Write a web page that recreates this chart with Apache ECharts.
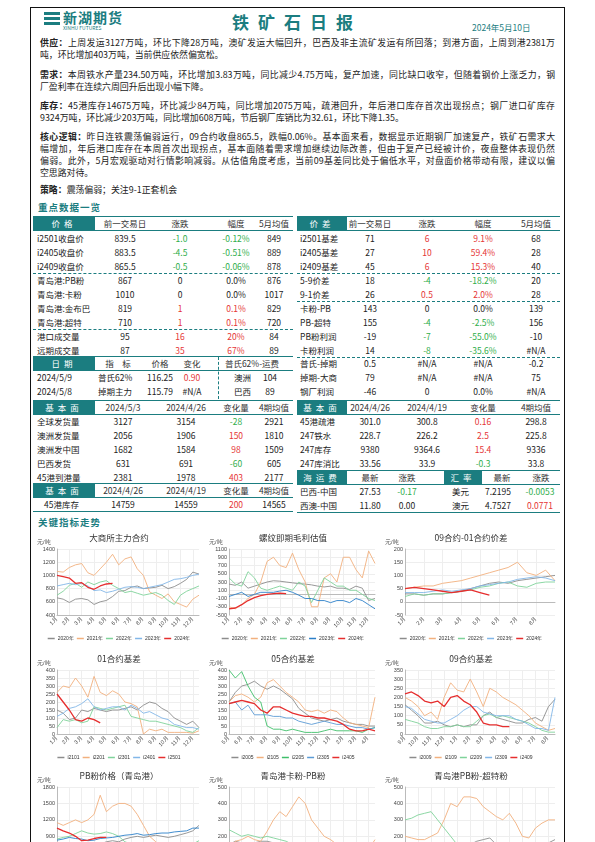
<!DOCTYPE html>
<html><head><meta charset="utf-8">
<script src="https://cdn.jsdelivr.net/npm/echarts@6/dist/echarts.min.js"></script>
<style>
body{margin:0;width:595px;height:842px;overflow:hidden;background:#fff;font-family:"Noto Sans CJK SC",sans-serif;position:relative}
.a{position:absolute;white-space:nowrap;font-size:8.5px;color:#222;line-height:12px}
.c{transform:translateX(-50%)}
.ln{position:absolute;left:40px;width:515px;font-size:8.9px;line-height:12px;text-align:justify;text-align-last:justify;color:#222;white-space:nowrap}
.box{position:absolute;background:#1b7d80;color:#fff;font-size:8.5px;text-align:center;line-height:14px;letter-spacing:4px}
.hl{position:absolute;height:0;border-top:1.2px solid #1b7d80}
.dl{position:absolute;height:0;border-top:1px dashed #1b7d80}
.ch{position:absolute}
</style></head><body>
<div style="position:absolute;left:30px;top:7px;width:533px;height:850px;border:1.5px solid #111"></div>
<div id="root"></div>
<script>
// ---------- data ----------
const months12 = ['1月','','2月','','3月','','4月','','5月','','6月','','7月','','8月','','9月','','10月','','11月','','12月',''];
const months9 = ['1月','','2月','','3月','','4月','','5月','','6月','','7月','','8月','',''];
const months05 = ['5月','','6月','','7月','','8月','','9月','','10月','','11月','','12月','','1月','','2月','','3月','','4月',''];
const months09 = ['9月','','10月','','11月','','12月','','1月','','2月','','3月','','4月','','5月','','6月','','7月','','8月',''];
const years = ['2020年','2021年','2022年','2023年','2024年'];
const main2020=[660,640,590,640,650,630,560,600,620,680,760,770,820,840,800,810,820,850,800,830,880,940,1050,1020];
const main2021=[1060,1050,1120,1160,1180,1040,1000,1100,1200,1320,1160,1250,1280,1100,1000,750,700,650,720,600,560,520,640,700];
const main2022=[700,760,850,880,820,900,860,900,920,850,800,740,760,730,700,720,740,700,620,560,700,760,800,840];
const main2023=[840,860,880,860,880,840,770,780,740,760,790,820,830,820,800,820,840,860,900,940,950,970,1000,1020];
const main2024=[1000,980,960,880,890,820,790,840,870,880];
const rb2020=[250,220,300,150,200,250,300,330,320,300,280,260,250,230,200,180,200,150,150,120,200,150,-150,-100];
const rb2021=[-300,-350,-250,-100,0,300,800,900,700,650,1000,600,300,-300,-300,400,500,300,900,900,600,400,1050,750];
const rb2022=[400,250,200,550,400,150,100,150,200,150,100,300,200,-200,100,400,300,200,200,100,100,0,-100,-150];
const rb2023=[-50,0,50,-50,0,50,50,50,80,100,50,-20,-100,-100,-150,-150,-200,-150,-150,-200,-100,-150,-250,-350];
const rb2024=[-350,-330,-250,-150,-80,-30,0,20,30,20];
const sp2020=[30,30,25,30,30,35,40,50,60,70,75,70,80,85,90,95,100];
const sp2021=[50,55,60,60,70,75,80,90,100,110,120,130,150,110,100,120,80];
const sp2022=[20,30,25,30,30,35,40,45,55,60,70,75,60,55,70,75,75];
const sp2023=[35,35,35,40,45,40,45,50,60,65,70,75,85,90,95,90,80];
const sp2024=[50,55,50,45,40,35,40,45,35,25];
const b01names=['i2101','i2201','i2301','i2401','i2501'];
const b01a=[150,130,90,100,150,140,160,150,140,150,150,160,170,150,180,200,190,160,140,100,80,60,80,40];
const b01b=[260,300,290,350,300,230,360,260,240,270,250,200,190,170,0,30,20,30,10,10,10,10,5,20];
const b01c=[40,90,80,90,70,80,170,160,150,160,170,180,110,100,90,80,80,70,60,50,40,20,10,40];
const b01d=[110,130,160,170,190,220,170,150,160,170,170,150,180,160,130,140,120,100,90,60,50,40,40,30];
const b01e=[250,200,150,90,80,100,90,70];
const b05names=['i2005','i2105','i2205','i2305','i2405'];
const b05a=[200,260,300,310,330,300,280,300,280,250,220,160,130,100,90,80,90,100,80,70,60,60,50,50];
const b05b=[200,240,250,230,200,230,320,340,300,260,230,200,150,140,150,130,150,140,100,70,60,50,40,230];
const b05c=[400,350,390,300,230,200,50,30,30,20,30,20,10,10,10,20,30,20,20,20,20,10,30,40];
const b05d=[190,200,150,180,120,120,120,110,110,100,100,80,70,60,70,80,70,60,60,50,40,40,30,40];
const b05e=[190,200,210,200,190,150,130,170,170,150,130,120,110,110,100,100,90,80,60,30,20,20,30,20];
const b09names=['i2009','i2109','i2209','i2309','i2409'];
const b09a=[160,130,100,60,60,70,50,40,50,40,50,50,100,120,90,80,70,60,60,80,90,70,150,190];
const b09b=[200,180,150,100,120,80,200,280,240,230,300,230,150,250,230,200,180,160,130,100,60,40,20,30];
const b09c=[80,70,60,40,30,30,40,40,50,40,40,70,100,110,90,100,90,80,70,60,40,20,10,10];
const b09d=[150,140,110,80,70,60,60,80,100,130,150,150,120,110,100,100,100,80,70,50,30,30,20,200];
const b09e=[220,230,210,180,170,180,150,200,210,180,160,120,60,50,50,40,40];
const pb2020=[680,660,620,640,650,640,680,760,800,820,800,850,880,900,880,900,920,900,880,900,930,960,1000,1100];
const pb2021=[1150,1100,1150,1200,1150,1200,1300,1650,1350,1450,1500,1500,1450,1300,1100,900,800,700,750,650,600,620,700,760];
const pb2022=[850,880,900,950,1000,960,940,950,980,950,900,800,760,700,720,740,720,700,680,650,650,700,760,820];
const pb2023=[830,850,880,860,850,820,830,860,870,880,900,920,930,950,920,930,950,960,960,980,990,1000,1050,1050];
const pb2024=[1050,1000,960,900,820,830,860,880,880];
const kp2020=[150,170,160,150,160,170,170,160,150,150,120,60,50,60,70,100,120,110,100,80,100,90,110,100];
const kp2021=[120,170,180,200,180,170,230,300,350,320,380,440,400,300,250,200,180,150,130,120,110,100,120,180];
const kp2022=[240,220,200,210,200,190,200,190,180,170,150,120,100,100,90,90,90,90,100,100,90,90,80,80];
const kp2023=[100,110,110,100,100,110,100,100,90,90,90,80,80,80,80,80,90,90,80,80,90,90,80,80];
const kp2024=[100,100,90,100,110,120,140,150,150];
const ct2020=[130,120,110,110,120,120,130,130,140,130,150,170,180,190,150,100,70,80,90,100,120,140,160,180];
const ct2021=[200,190,180,180,200,220,300,400,380,440,440,430,380,350,320,300,340,280,200,190,250,280,300,300];
const ct2022=[300,310,330,340,350,300,250,200,150,120,110,100,110,90,80,70,80,90,100,110,120,140,150,160];
const ct2023=[140,130,130,120,120,130,120,130,130,140,130,130,140,130,110,80,70,80,90,100,110,120,120,110];
const ct2024=[110,110,120,140,160,160,150,150];

// ---------- layout helpers ----------
const R=document.getElementById('root');
function el(cls,css,html){const d=document.createElement('div');d.className=cls;d.style.cssText=css;if(html!==undefined)d.innerHTML=html;R.appendChild(d);return d;}
const G='#2fae4a',RD='#e53535';
function T(x,y,t,col,center){el('a'+(center?' c':''),`left:${x}px;top:${y-6}px;color:${col||'#222'}`,t);}

// header
el('a','left:44px;top:10px;width:16px;height:20px;', '<div style="border-top:3px solid #1b7d80;margin-top:2px;width:16px"></div><div style="border-top:3px solid #1b7d80;margin-top:2px;width:16px"></div><div style="border-top:3px solid #1b7d80;margin-top:2px;width:16px"></div>');
el('a','left:63px;top:9px;font-size:14px;line-height:16px;font-weight:bold;color:#1b7d80;letter-spacing:1px','新湖期货');
el('a','left:63px;top:25px;font-size:5px;line-height:6px;color:#1b7d80','XINHU FUTURES');
el('a','left:297px;top:11px;font-size:17px;line-height:22px;font-weight:bold;color:#1b7d80;letter-spacing:9px;transform:translateX(-50%)','铁矿石日报');
el('a','left:472px;top:21px;font-size:8.5px;color:#1b7d80','2024年5月10日');

const lines=[
[43,'<b>供应：</b>上周发运3127万吨，环比下降28万吨，澳矿发运大幅回升，巴西及非主流矿发运有所回落；到港方面，上周到港2381万'],
[55,'吨，环比增加403万吨，当前供应依然偏宽松。',1],
[75,'<b>需求：</b>本周铁水产量234.50万吨，环比增加3.83万吨，同比减少4.75万吨，复产加速，同比缺口收窄，但随着钢价上涨乏力，钢'],
[87,'厂盈利率在连续六周回升后出现小幅下降。',1],
[106,'<b>库存：</b>45港库存14675万吨，环比减少84万吨，同比增加2075万吨，疏港回升，年后港口库存首次出现拐点；钢厂进口矿库存'],
[118,'9324万吨，环比减少203万吨，同比增加608万吨，节后钢厂库销比为32.61，环比下降1.35。',1],
[137,'<b>核心逻辑：</b>昨日连铁震荡偏弱运行，09合约收盘865.5，跌幅0.06%。基本面来看，数据显示近期钢厂加速复产，铁矿石需求大'],
[149,'幅增加，年后港口库存在本周首次出现拐点，基本面随着需求增加继续边际改善，但由于复产已经被计价，夜盘整体表现仍然'],
[161,'偏弱。此外，5月宏观驱动对行情影响减弱。从估值角度考虑，当前09基差同比处于偏低水平，对盘面价格带动有限，建议以偏'],
[173,'空思路对待。',1],
[190,'<b>策略：</b>震荡偏弱；关注9-1正套机会',1]];
lines.forEach(l=>el('ln',`top:${l[0]-6}px;${l[2]?'text-align-last:left':''}`,l[1]));

el('a','left:38px;top:201px;font-size:9.5px;font-weight:bold;color:#1b7d80;letter-spacing:1px','重点数据一览');
el('a','left:38px;top:516px;font-size:9.5px;font-weight:bold;color:#1b7d80;letter-spacing:1px','关键指标走势');

// table helpers
const LX=[37,125,180,236,274], RX=[300,370,427,483,536];
function hdr(y,x0,x1,boxW,label,cols,xs){el('hl',`left:${x0}px;top:${y-7}px;width:${x1-x0}px`);el('hl',`left:${x0}px;top:${y+7}px;width:${x1-x0}px`);
 el('box',`left:${x0}px;top:${y-7}px;width:${boxW}px`,label);cols.forEach((c,i)=>T(xs[i],y,c,'#333',1));}
function row(y,cells,xs){cells.forEach((c,i)=>{if(c===null)return;let t=c,col;if(Array.isArray(c)){t=c[0];col=c[1];}T(xs[i],y,t,col,i>0);});}

hdr(223,33,293,62,'价格',['前一交易日','涨跌','幅度','5月均值'],LX.slice(1));
hdr(223,297,560,50,'价差',['前一交易日','涨跌','幅度','5月均值'],RX.slice(1));
const LT=[
['i2501收盘价','839.5',['-1.0',G],['-0.12%',G],'849'],
['i2405收盘价','883.5',['-4.5',G],['-0.51%',G],'889'],
['i2409收盘价','865.5',['-0.5',G],['-0.06%',G],'878'],
['青岛港:PB粉','867','0','0.0%','876'],
['青岛港:卡粉','1010','0','0.0%','1017'],
['青岛港:金布巴','819',['1',RD],['0.1%',RD],'829'],
['青岛港:超特','710',['1',RD],['0.1%',RD],'720'],
['港口成交量','95',['16',RD],['20%',RD],'84'],
['远期成交量','87',['35',RD],['67%',RD],'89']];
const RT=[
['i2501基差','71',['6',RD],['9.1%',RD],'68'],
['i2405基差','27',['10',RD],['59.4%',RD],'28'],
['i2409基差','45',['6',RD],['15.3%',RD],'40'],
['5-9价差','18',['-4',G],['-18.2%',G],'20'],
['9-1价差','26',['0.5',RD],['2.0%',RD],'28'],
['卡粉-PB','143','0','0.0%','139'],
['PB-超特','155',['-4',G],['-2.5%',G],'156'],
['PB粉利润','-19',['-7',G],['-55.0%',G],'-10'],
['卡粉利润','14',['-8',G],['-35.6%',G],'#N/A']];
LT.forEach((r,i)=>row(238+i*14,r,LX));RT.forEach((r,i)=>row(238+i*14,r,RX));
el('dl','left:33px;top:273px;width:260px');el('dl','left:33px;top:329px;width:260px');
el('dl','left:297px;top:273px;width:263px');el('dl','left:297px;top:301px;width:263px');el('dl','left:297px;top:357px;width:263px');

// 日期 section
el('hl','left:33px;top:356px;width:260px');el('hl','left:33px;top:370px;width:260px');
el('box','left:33px;top:356px;width:62px','日期');
T(118,363,'指　标','#333',1);T(160,363,'价格','#333',1);T(192,363,'变化','#333',1);T(252,363,'普氏62%-运费','#333',1);
el('a','left:218px;top:357px;height:42px;border-left:1px dashed #1b7d80');
row(377,['2024/5/9',null,null,null,null],LX);T(98,377,'普氏62%');T(160,377,'116.25','#222',1);T(192,377,'0.90',RD,1);T(234,377,'澳洲');T(270,377,'104','#222',1);
row(391,['2024/5/8',null,null,null,null],LX);T(98,391,'掉期主力');T(160,391,'115.79','#222',1);T(192,391,'#N/A','#222',1);T(234,391,'巴西');T(270,391,'89','#222',1);
row(363,['普氏-掉期','0.5','#N/A','#N/A','-0.2'],RX);row(377,['掉期-大商','79','#N/A','#N/A','75'],RX);row(391,['钢厂利润','-46','0','0.0%','#N/A'],RX);

// 基本面
hdr(407,33,293,62,'基本面',['2024/5/3','2024/4/26','变化量','4期均值'],[123,186,236,274]);
hdr(407,297,560,50,'基本面',['2024/4/26','2024/4/19','变化量','4期均值'],RX.slice(1));
const LB=[['全球发货量','3127','3154',['-28',G],'2921'],['澳洲发货量','2056','1906',['150',RD],'1810'],['澳洲发中国','1682','1584',['98',RD],'1509'],['巴西发货','631','691',['-60',G],'605'],['45港到港量','2381','1978',['403',RD],'2177']];
const RB=[['45港疏港','301.0','300.8',['0.16',RD],'298.8'],['247铁水','228.7','226.2',['2.5',RD],'225.8'],['247库存','9380','9364.6',['15.4',RD],'9336'],['247库消比','33.56','33.9',['-0.3',G],'33.8']];
LB.forEach((r,i)=>row(421+i*14,r,[37,123,186,236,274]));RB.forEach((r,i)=>row(421+i*14,r,RX));
hdr(490,33,293,62,'基本面',['2024/4/26','2024/4/19','变化量','4期均值'],[123,186,236,274]);
row(504,[null,'14759','14559',['200',RD],'14565'],[37,123,186,236,274]);T(44,504,'45港库存');
el('hl','left:33px;top:511px;width:260px');
el('hl','left:297px;top:470px;width:263px');el('hl','left:297px;top:484px;width:263px');
el('box','left:297px;top:470px;width:50px','海运费');el('box','left:444px;top:470px;width:38px','汇率');
T(370,477,'最新','#333',1);T(407,477,'涨跌','#333',1);T(502,477,'最新','#333',1);T(541,477,'涨跌','#333',1);
T(300,491,'巴西-中国');T(370,491,'27.53','#222',1);T(407,491,'-0.17',G,1);T(452,491,'美元');T(498,491,'7.2195','#222',1);T(540,491,'-0.0053',G,1);
T(300,505,'西澳-中国');T(370,505,'11.80','#222',1);T(407,505,'0.00','#222',1);T(452,505,'澳元');T(498,505,'4.7527','#222',1);T(540,505,'0.0771',RD,1);
el('hl','left:297px;top:512px;width:263px');

// ---------- charts ----------
const C=['#8c8c8c','#f2b07e','#7fd39a','#82b7e8','#e62e2e'];
function chart(x,y,w,h,title,cats,ymin,ymax,step,names,datas,opt){
 const d=el('ch',`left:${x}px;top:${y}px;width:${w}px;height:${h}px`);
 const ch=echarts.init(d,null,{renderer:'canvas'});
 const cols=(opt&&opt.colors)||C;
 ch.setOption({animation:false,
  title:{text:title,left:'center',top:2,textStyle:{fontSize:8.5,fontWeight:'normal',color:'#333',fontFamily:'Noto Sans CJK SC'}},
  graphic:[{type:'text',left:4,top:12,style:{text:'元/吨',fontSize:5.5,fill:'#444'}}],
  grid:{left:24,right:6,top:22,bottom:(opt&&opt.noLegend)?4:32},
  legend:(opt&&opt.noLegend)?{show:false}:{bottom:1,left:'center',itemWidth:7,itemHeight:1.5,itemGap:3,icon:'rect',textStyle:{fontSize:5,color:'#333',padding:[0,0,0,-2]}},
  xAxis:{type:'category',data:cats,boundaryGap:false,axisTick:{show:false},axisLine:{lineStyle:{color:'#bbb'}},
   axisLabel:{interval:(i,v)=>v!=='',rotate:45,fontSize:5.5,color:'#444',margin:3},
   splitLine:{show:true,interval:(i,v)=>v!=='',lineStyle:{color:'#eee'}}},
  yAxis:{type:'value',min:ymin,max:ymax,interval:step,axisLabel:{fontSize:5.5,color:'#444',margin:2,formatter:v=>String(v)},axisLine:{show:true,lineStyle:{color:'#bbb'}},splitLine:{lineStyle:{color:'#eee'}}},
  series:names.map((n,i)=>({name:n,type:'line',data:datas[i],symbol:'none',lineStyle:{width:i==4?1.3:0.9,color:cols[i]},itemStyle:{color:cols[i]}}))});
}
const C2=['#8c8c8c','#f2b07e','#7fd39a','#2a7fc8','#e62e2e'];
chart(33,527,172,120,'大商所主力合约',months12,400,1400,200,years,[main2020,main2021,main2022,main2023,main2024]);
chart(205,527,176,120,'螺纹即期毛利估值',months12,-500,1100,200,years,[rb2020,rb2021,rb2022,rb2023,rb2024],{colors:C2});
chart(381,527,180,120,'09合约-01合约价差',months9,-50,200,50,years,[sp2020,sp2021,sp2022,sp2023,sp2024]);
chart(33,648,172,118,'01合约基差',months12,0,400,50,b01names,[b01a,b01b,b01c,b01d,b01e]);
chart(205,648,176,118,'05合约基差',months05,0,400,50,b05names,[b05a,b05b,b05c,b05d,b05e],{colors:['#8c8c8c','#f2b07e','#3fbf6a','#5b9bd5','#e62e2e']});
chart(381,648,180,118,'09合约基差',months09,0,350,50,b09names,[b09a,b09b,b09c,b09d,b09e]);
chart(33,765,172,120,'PB粉价格（青岛港）',months12,300,1800,300,years,[pb2020,pb2021,pb2022,pb2023,pb2024],{noLegend:1,colors:C2});
chart(205,765,176,120,'青岛港卡粉-PB粉',months12,0,500,100,years,[kp2020,kp2021,kp2022,kp2023,kp2024],{noLegend:1,colors:C2});
chart(381,765,180,120,'青岛港PB粉-超特粉',months12,0,500,100,years,[ct2020,ct2021,ct2022,ct2023,ct2024],{noLegend:1,colors:C2});
</script></body></html>
